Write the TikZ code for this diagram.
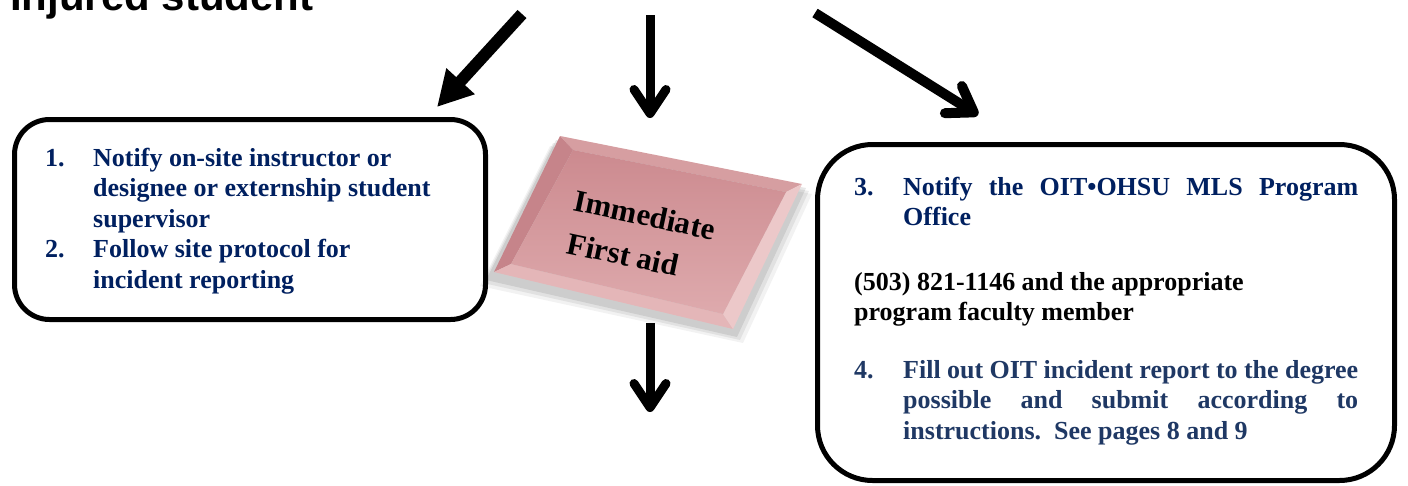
\documentclass[tikz,border=0pt]{standalone}
\usepackage{fontspec}
\setmainfont{Liberation Serif}
\newfontfamily\sansfam{Liberation Sans}
\usetikzlibrary{arrows.meta}
\definecolor{navy}{RGB}{0,32,96}
\definecolor{navytwo}{RGB}{31,56,100}
\definecolor{plateface}{RGB}{204,138,143}
\definecolor{plateface2}{RGB}{222,170,173}
\definecolor{bevtop}{RGB}{214,158,161}
\definecolor{bevleft}{RGB}{198,132,138}
\definecolor{bevbottom}{RGB}{228,182,184}
\definecolor{bevright}{RGB}{236,200,201}
\begin{document}
\begin{tikzpicture}[x=1pt,y=-1pt,
  boxshape/.style={draw=black, line width=5pt, rectangle, inner sep=0pt, fill=white},
  bigarrow/.style={line width=12pt, -{Triangle[length=35pt,width=36pt]}},
  barbarrow/.style={line width=9pt, -{Straight Barb[length=24pt,width=32pt,round]}},
  itemtext/.style={anchor=base west, inner sep=0pt, font=\fontsize{26}{30.5}\selectfont\bfseries, text=navy},
  platetext/.style={inner sep=0pt, rotate=-12, align=left, font=\fontsize{31}{43.3}\selectfont\bfseries, text=black},
]
\useasboundingbox (0,0) rectangle (1408,485);

% title (cut by the top edge)
\node[anchor=base west, inner sep=0pt, font=\sansfam\bfseries\fontsize{42}{46}\selectfont] (title) at (10,10) {Injured student};

% boxes
\node[boxshape, rounded corners=35pt, minimum width=471pt, minimum height=200pt] (lbox) at (250,219.5) {};
\node[boxshape, rounded corners=55pt, minimum width=577pt, minimum height=336pt] (rbox) at (1106,312.5) {};

% left box text
\node[itemtext] (ltext) at (45,166) {\vtop{\hsize=440pt\parindent=0pt
\hangindent=48pt\hangafter=1\makebox[48pt][l]{1.}Notify on-site instructor or\\designee or externship student\\supervisor\par
\hangindent=48pt\hangafter=1\makebox[48pt][l]{2.}Follow site protocol for\\incident reporting\par}};

% right box text
\node[itemtext] (rthree) at (854,195) {\vtop{\hsize=504pt\parindent=0pt
\hangindent=49pt\hangafter=1\makebox[49pt][l]{3.}\makebox[455pt][s]{Notify the OIT•OHSU MLS Program}\\Office\par}};
\node[itemtext, text=black] (rphone) at (854,290) {\vtop{\hsize=504pt\parindent=0pt
(503) 821-1146 and the appropriate\\program faculty member\par}};
\node[itemtext, text=navytwo] (rfour) at (854,378) {\vtop{\hsize=504pt\parindent=0pt
\hangindent=49pt\hangafter=1\makebox[49pt][l]{4.}\makebox[455pt][s]{Fill out OIT incident report to the degree}\\\makebox[455pt][s]{possible and submit according to}\\instructions.\ \ See pages 8 and 9\par}};

% plate (Immediate First aid)
\coordinate (pA) at (560,136);
\coordinate (pB) at (802,184);
\coordinate (pC) at (733,329);
\coordinate (pD) at (494,272);
\coordinate (qA) at (573,150);
\coordinate (qB) at (786,192);
\coordinate (qC) at (723,314);
\coordinate (qD) at (511,264);
\foreach \o/\op in {10/0.05,7/0.07,4/0.09}{
  \fill[black, opacity=\op] ([xshift=-\o pt, yshift=-\o pt]pA) -- ([xshift=\o pt, yshift=-\o pt]pB) -- ([xshift=\o pt, yshift=-\o pt-4pt]pC) -- ([xshift=-\o pt-4pt, yshift=-\o pt-4pt]pD) -- cycle;
}
\fill[bevtop] (pA) -- (pB) -- (qB) -- (qA) -- cycle;
\fill[bevleft] (pA) -- (qA) -- (qD) -- (pD) -- cycle;
\fill[bevbottom] (pD) -- (qD) -- (qC) -- (pC) -- cycle;
\fill[bevright] (pB) -- (pC) -- (qC) -- (qB) -- cycle;
\shade[top color=plateface, bottom color=plateface2] (qA) -- (qB) -- (qC) -- (qD) -- cycle;
\node[platetext] (plate) at (640.5,236) {Immediate\\\hspace*{2pt}First aid};

% arrows
\coordinate (aLs) at (522,14);
\coordinate (aLe) at (437,107);
\coordinate (aMs) at (650,15);
\coordinate (aMe) at (650,118);
\coordinate (aRs) at (815,13);
\coordinate (aRe) at (978,115);
\coordinate (aBs) at (650,323);
\coordinate (aBe) at (650,412);
\draw[bigarrow] (aLs) -- (aLe);
\draw[barbarrow] (aMs) -- (aMe);
\draw[barbarrow, line width=10pt] (aRs) -- (aRe);
\draw[barbarrow] (aBs) -- (aBe);
\end{tikzpicture}
\end{document}
